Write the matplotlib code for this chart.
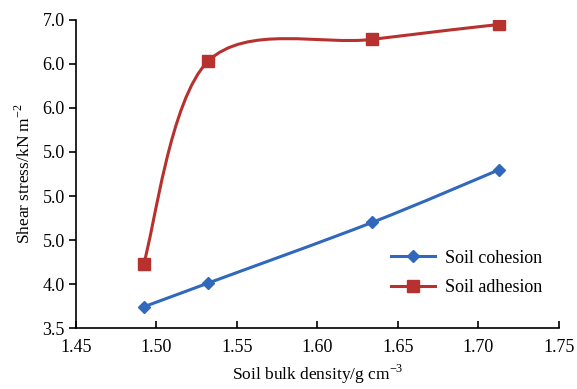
import numpy as np
import matplotlib
matplotlib.use('Agg')
import matplotlib.pyplot as plt
from matplotlib.path import Path
from matplotlib.patches import PathPatch
from matplotlib.lines import Line2D

# data
density = [1.492, 1.532, 1.634, 1.713]
cohesion = [3.74, 4.01, 4.70, 5.30]
adhesion = [4.23, 6.53, 6.78, 6.95]

y_ticks = [3.5, 4.0, 4.5, 5.0, 5.5, 6.0, 6.5, 7.0]
y_tick_labels = ['3.5', '4.0', '5.0', '5.0', '5.0', '6.0', '6.0', '7.0']
x_ticks = [1.45, 1.50, 1.55, 1.60, 1.65, 1.70, 1.75]

blue = '#3068bd'
red = '#b7312f'

plt.rcParams['font.family'] = ['Liberation Serif', 'DejaVu Serif']
plt.rcParams['mathtext.fontset'] = 'custom'
plt.rcParams['mathtext.rm'] = 'Liberation Serif'
plt.rcParams['axes.unicode_minus'] = False


def smooth_path(xs, ys):
    # Excel-like smoothed line: Catmull-Rom segments as cubic Beziers
    pts = np.column_stack([xs, ys])
    verts = [pts[0]]
    codes = [Path.MOVETO]
    n = len(pts)
    for i in range(n - 1):
        p0 = pts[i - 1] if i > 0 else pts[i]
        p1 = pts[i]
        p2 = pts[i + 1]
        p3 = pts[i + 2] if i + 2 < n else pts[i + 1]
        c1 = p1 + (p2 - p0) / 6.0
        c2 = p2 - (p3 - p1) / 6.0
        verts += [c1, c2, p2]
        codes += [Path.CURVE4] * 3
    return Path(verts, codes)


fig = plt.figure(figsize=(5.77, 3.89), dpi=100)
ax = fig.add_axes([0.1317, 0.1568, 0.8371, 0.7918])

ax.add_patch(PathPatch(smooth_path(density, adhesion), fill=False,
                       edgecolor=red, lw=2.2, zorder=2))
ax.add_patch(PathPatch(smooth_path(density, cohesion), fill=False,
                       edgecolor=blue, lw=2.2, zorder=2))
ax.plot(density, adhesion, ls='none', marker='s', ms=8.5, color=red, zorder=3)
ax.plot(density, cohesion, ls='none', marker='D', ms=6.5, color=blue, zorder=3)

ax.set_xlim(1.45, 1.75)
ax.set_ylim(3.5, 7.0)
ax.set_xticks(x_ticks)
ax.set_xticklabels(['%.2f' % v for v in x_ticks])
ax.set_yticks(y_ticks)
ax.set_yticklabels(y_tick_labels)

for s in ['top', 'right']:
    ax.spines[s].set_visible(False)
for s in ['left', 'bottom']:
    ax.spines[s].set_linewidth(1.2)

ax.tick_params(axis='x', direction='in', length=5, width=1.2, labelsize=13, pad=8)
ax.tick_params(axis='y', direction='out', length=5, width=1.2, labelsize=13, pad=3)

ax.set_xlabel('Soil bulk density/g cm$^{\\mathregular{-3}}$', fontsize=12.5, labelpad=5)
ax.set_ylabel('Shear stress/kN m$^{\\mathregular{-2}}$', fontsize=12.5, labelpad=6)

handles = [
    Line2D([], [], color=blue, lw=2.2, marker='D', ms=6.5),
    Line2D([], [], color=red, lw=2.2, marker='s', ms=8.5),
]
ax.legend(handles, ['Soil cohesion', 'Soil adhesion'], loc='lower right',
          bbox_to_anchor=(1.0, 0.05), frameon=False, fontsize=13,
          handlelength=2.4, handletextpad=0.6, labelspacing=0.7)

fig.savefig('out.png', dpi=100)
